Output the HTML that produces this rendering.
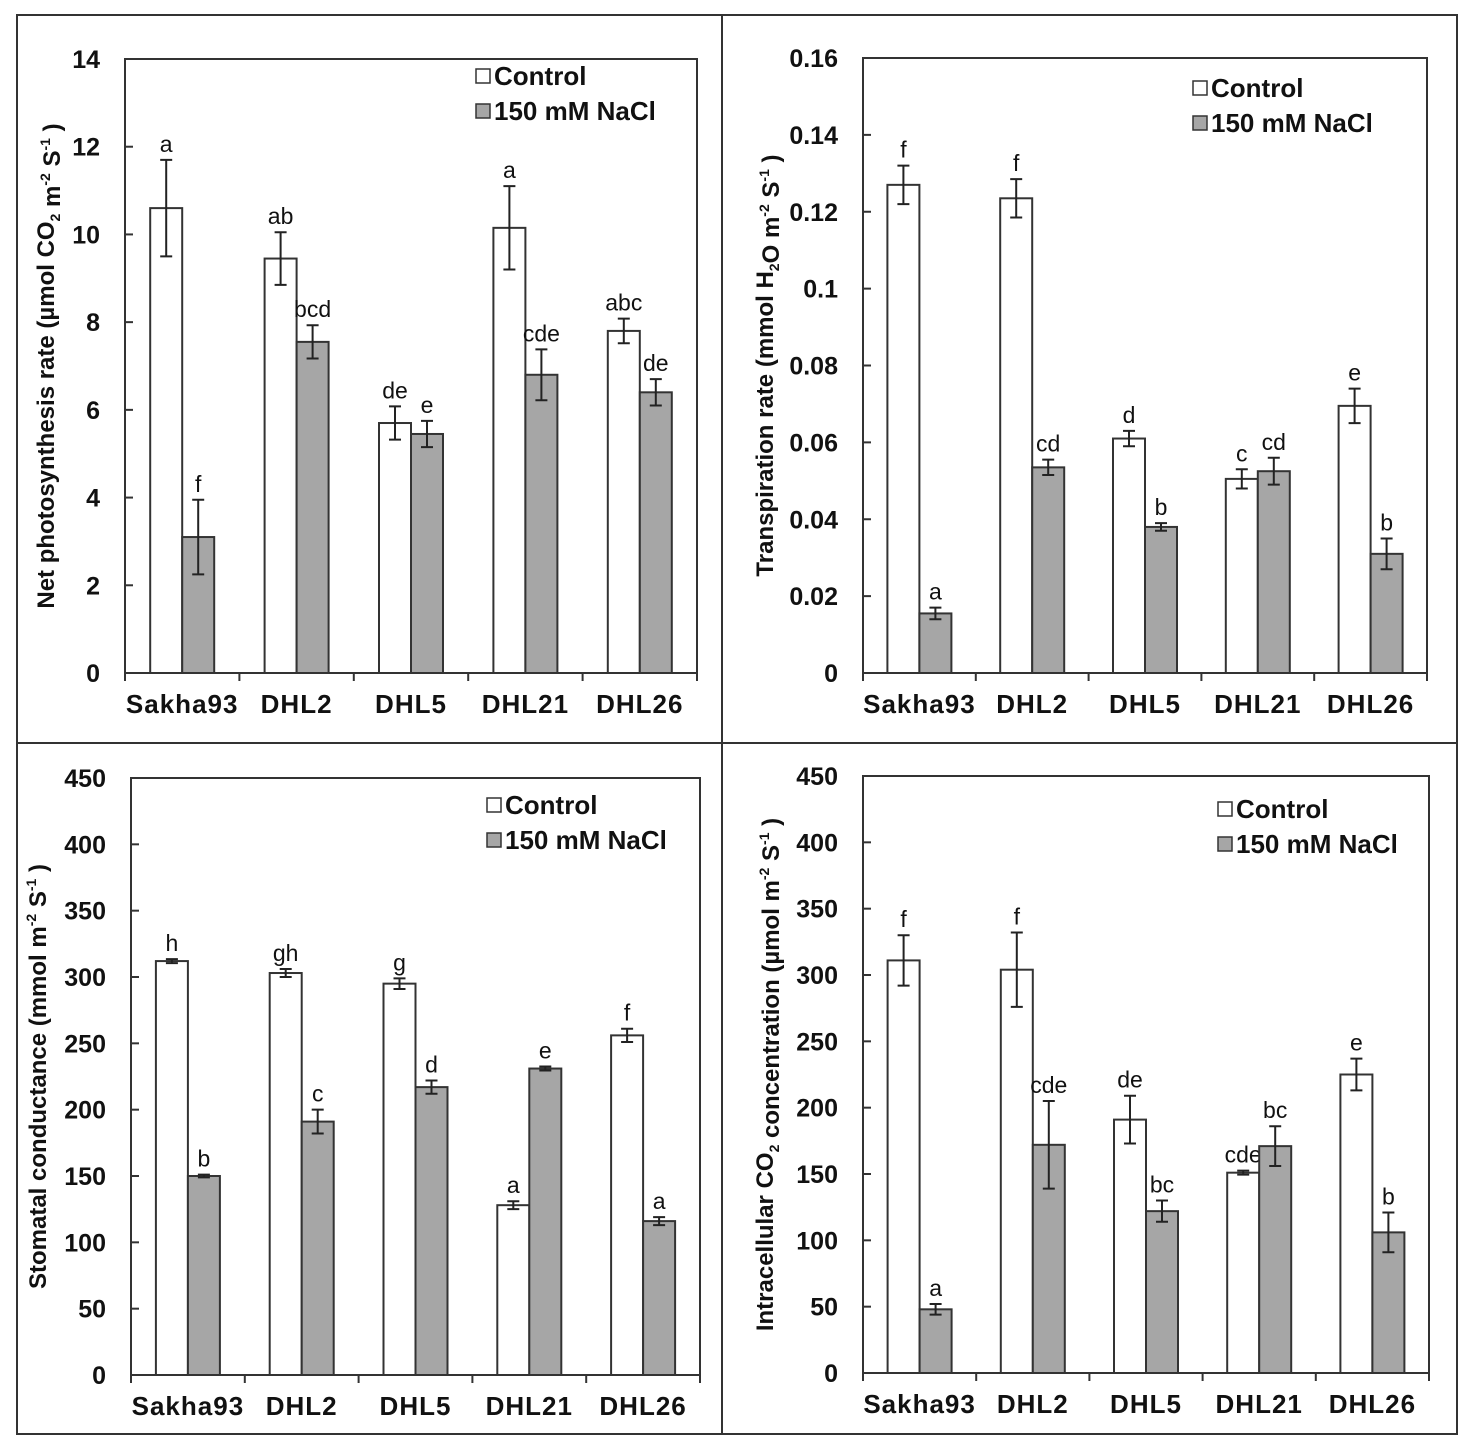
<!DOCTYPE html>
<html><head><meta charset="utf-8"><style>
html,body{margin:0;padding:0;background:#fff}
svg{display:block}
text{font-family:"Liberation Sans",Arial,sans-serif;fill:#111}
</style></head><body>
<svg id="fig" width="1475" height="1450" viewBox="0 0 1475 1450" xmlns="http://www.w3.org/2000/svg">
<rect x="17" y="15" width="1440" height="1419" fill="none" stroke="#333" stroke-width="2"/>
<line x1="722" y1="15" x2="722" y2="1434" stroke="#333" stroke-width="2"/>
<line x1="17" y1="743" x2="1457" y2="743" stroke="#333" stroke-width="2"/>
</svg>
<script>
const categories=["Sakha93","DHL2","DHL5","DHL21","DHL26"];
// Panel A: net photosynthesis
const aControl=[10.6,9.45,5.7,10.15,7.8];
const aControlErr=[1.1,0.6,0.38,0.95,0.28];
const aNacl=[3.1,7.55,5.45,6.8,6.4];
const aNaclErr=[0.85,0.38,0.3,0.58,0.3];
const aCtrlLetters=["a","ab","de","a","abc"];
const aNaclLetters=["f","bcd","e","cde","de"];
const aTicks=[0,2,4,6,8,10,12,14];
// Panel B: transpiration
const bControl=[0.127,0.1235,0.061,0.0505,0.0695];
const bControlErr=[0.005,0.005,0.002,0.0025,0.0045];
const bNacl=[0.0155,0.0535,0.038,0.0525,0.031];
const bNaclErr=[0.0015,0.002,0.001,0.0035,0.004];
const bCtrlLetters=["f","f","d","c","e"];
const bNaclLetters=["a","cd","b","cd","b"];
const bTicks=[0,0.02,0.04,0.06,0.08,0.1,0.12,0.14,0.16];
const bTickLabels=["0","0.02","0.04","0.06","0.08","0.1","0.12","0.14","0.16"];
// Panel C: stomatal conductance
const cControl=[312,303,295,128,256];
const cControlErr=[1.5,3,4,3,5];
const cNacl=[150,191,217,231,116];
const cNaclErr=[1,9,5,1.5,3];
const cCtrlLetters=["h","gh","g","a","f"];
const cNaclLetters=["b","c","d","e","a"];
const cTicks=[0,50,100,150,200,250,300,350,400,450];
// Panel D: intracellular CO2
const dControl=[311,304,191,151,225];
const dControlErr=[19,28,18,1.5,12];
const dNacl=[48,172,122,171,106];
const dNaclErr=[4,33,8,15,15];
const dCtrlLetters=["f","f","de","cde","e"];
const dNaclLetters=["a","cde","bc","bc","b"];
const dTicks=[0,50,100,150,200,250,300,350,400,450];

const NS="http://www.w3.org/2000/svg";
const svg=document.getElementById('fig');
function mk(tag,attrs,parent){const e=document.createElementNS(NS,tag);for(const k in attrs)e.setAttribute(k,attrs[k]);(parent||svg).appendChild(e);return e;}

function panel(p){
  const g=mk('g',{});
  
  
  const max=p.ticks[p.ticks.length-1];
  const y=v=>p.bottom-(v/max)*(p.bottom-p.top);
  const gw=(p.right-p.left)/categories.length;
  const bw=32;
  const frame=mk('rect',{x:p.left,y:p.top,width:p.right-p.left,height:p.bottom-p.top,fill:'none',stroke:'#333','stroke-width':2},g);
  
  
  p.ticks.forEach((t,i)=>{
    const yy=y(t);
    if(i>0&&i<p.ticks.length-1){const tk=mk('line',{x1:p.left,x2:p.left+8,y1:yy,y2:yy,stroke:'#333','stroke-width':2},g);
    
    }
    const tl=mk('text',{x:p.left-25,y:yy+9,'text-anchor':'end','font-size':25,'font-weight':'bold'},g);
    tl.textContent=p.tickLabels?p.tickLabels[i]:t;
    
    
  });
  for(let i=0;i<=categories.length;i++){
    const xx=p.left+i*gw;
    const tk=mk('line',{x1:xx,x2:xx,y1:p.bottom,y2:p.bottom+8,stroke:'#333','stroke-width':2},g);
    
    
  }
  categories.forEach((c,i)=>{
    const cx=p.left+(i+0.5)*gw;
    const series=[[p.ctrl,p.ctrlErr,p.ctrlL,'#fff',cx-bw,'control'],[p.nacl,p.naclErr,p.naclL,'#a6a6a6',cx,'nacl']];
    series.forEach(s=>{
      const v=s[0][i],e=s[1][i];
      const r=mk('rect',{x:s[4],y:y(v),width:bw,height:p.bottom-y(v),fill:s[3],stroke:'#333','stroke-width':2},g);
      
      
      const ex=s[4]+bw/2;
      const eb=mk('path',{d:`M${ex},${y(v+e)}V${y(v-e)}M${ex-6},${y(v+e)}H${ex+6}M${ex-6},${y(v-e)}H${ex+6}`,stroke:'#222','stroke-width':2,fill:'none'},g);
      
      
      const lt=mk('text',{x:ex,y:y(v+e)-8,'text-anchor':'middle','font-size':23},g);
      lt.textContent=s[2][i];
      
      
    });
    const xl=mk('text',{x:cx,y:p.bottom+40,'text-anchor':'middle','font-size':26,'font-weight':'bold','letter-spacing':1},g);
    xl.textContent=c;
    
    
  });
  const yt=mk('text',{transform:`translate(${p.ytx},${(p.top+p.bottom)/2+p.ytdy}) rotate(-90)`,'text-anchor':'middle','font-size':24,'font-weight':'bold'},g);
  yt.innerHTML=p.ytitle;
  
  
  [['Control','#fff',0],['150 mM NaCl','#a6a6a6',1]].forEach(L=>{
    const ly=p.legY+L[2]*35;
    const sq=mk('rect',{x:p.legX,y:ly-16,width:14,height:14,fill:L[1],stroke:'#333','stroke-width':1.5},g);
    
    
    const lt=mk('text',{x:p.legX+18,y:ly,'font-size':26,'font-weight':'bold'},g);
    lt.textContent=L[0];
    
    
  });
}
const sup=(s)=>`<tspan font-size="14" dy="-10">${s}</tspan><tspan dy="10"> </tspan>`;
const sub=(s)=>`<tspan font-size="14" dy="6">${s}</tspan><tspan dy="-6"></tspan>`;
panel({id:'net-photosynthesis',left:125,right:697,top:59,bottom:673,ticks:aTicks,ctrl:aControl,ctrlErr:aControlErr,nacl:aNacl,naclErr:aNaclErr,ctrlL:aCtrlLetters,naclL:aNaclLetters,ytx:54,ytdy:0,legX:476,legY:85,
 ytitle:`Net photosynthesis  rate (µmol CO${sub('2')} m${sup('-2')}S${sup('-1')})`});
panel({id:'transpiration',left:863,right:1427,top:58,bottom:673,ticks:bTicks,tickLabels:bTickLabels,ctrl:bControl,ctrlErr:bControlErr,nacl:bNacl,naclErr:bNaclErr,ctrlL:bCtrlLetters,naclL:bNaclLetters,ytx:773,ytdy:0,legX:1193,legY:97,
 ytitle:`Transpiration rate (mmol H${sub('2')}O m${sup('-2')}S${sup('-1')})`});
panel({id:'stomatal-conductance',left:131,right:700,top:778,bottom:1375,ticks:cTicks,ctrl:cControl,ctrlErr:cControlErr,nacl:cNacl,naclErr:cNaclErr,ctrlL:cCtrlLetters,naclL:cNaclLetters,ytx:46,ytdy:0,legX:487,legY:814,
 ytitle:`Stomatal conductance (mmol m${sup('-2')}S${sup('-1')})`});
panel({id:'intracellular-co2',left:863,right:1429,top:776,bottom:1373,ticks:dTicks,ctrl:dControl,ctrlErr:dControlErr,nacl:dNacl,naclErr:dNaclErr,ctrlL:dCtrlLetters,naclL:dNaclLetters,ytx:773,ytdy:0,legX:1218,legY:818,
 ytitle:`Intracellular CO${sub('2')} concentration (µmol m${sup('-2')}S${sup('-1')})`});
</script>
</body></html>
